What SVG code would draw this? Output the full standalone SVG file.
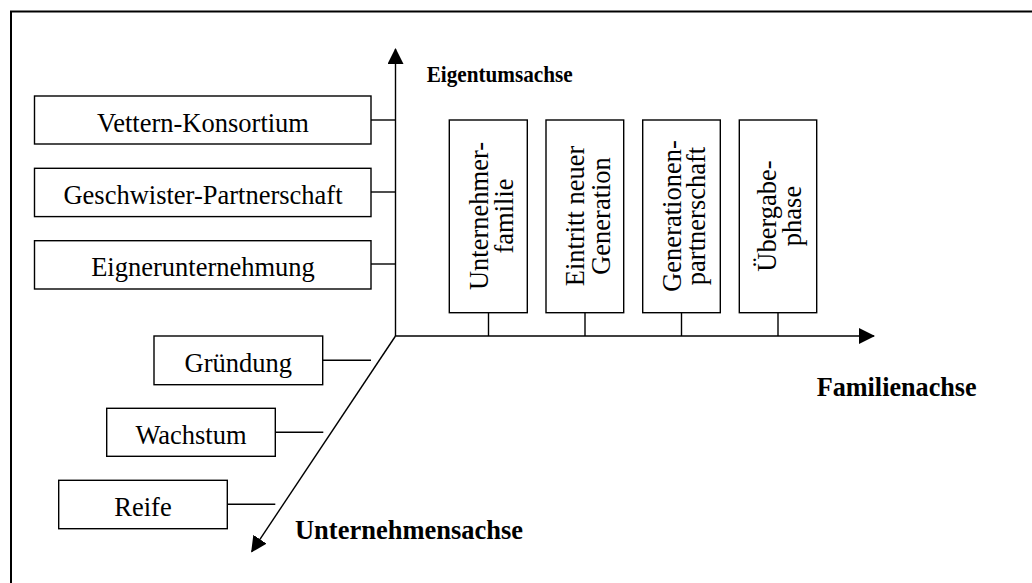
<svg xmlns="http://www.w3.org/2000/svg" width="1032" height="583" viewBox="0 0 1032 583">
<style>
.box{fill:#fff;stroke:#000;stroke-width:1.4}
.ln{fill:none;stroke:#000;stroke-width:1.4}
.t{font-family:"Liberation Serif","Times New Roman",serif;font-size:26.5px;fill:#000;text-anchor:middle}
.b{font-family:"Liberation Serif","Times New Roman",serif;font-weight:bold;fill:#000}
</style>
<defs>
<marker id="arr" markerUnits="userSpaceOnUse" markerWidth="16" markerHeight="16" viewBox="0 0 16 16" refX="15" refY="8" orient="auto">
<path d="M0,0 L16,8 L0,16 z" fill="#000"/>
</marker>
</defs>
<rect width="1032" height="583" fill="#fff"/>
<path d="M11,600 L11,11.5 L1040,11.5" fill="none" stroke="#000" stroke-width="2"/>

<g id="connectors">
<line class="ln" x1="395.5" y1="336" x2="395.5" y2="49" marker-end="url(#arr)"/>
<line class="ln" x1="395.5" y1="336" x2="874" y2="336" marker-end="url(#arr)"/>
<line class="ln" x1="395.5" y1="336" x2="251.7" y2="551.7" marker-end="url(#arr)"/>
<line class="ln" x1="371" y1="120" x2="395.5" y2="120"/>
<line class="ln" x1="371" y1="192" x2="395.5" y2="192"/>
<line class="ln" x1="371" y1="264" x2="395.5" y2="264"/>
<line class="ln" x1="488.5" y1="312.7" x2="488.5" y2="336"/>
<line class="ln" x1="585" y1="312.7" x2="585" y2="336"/>
<line class="ln" x1="681.5" y1="312.7" x2="681.5" y2="336"/>
<line class="ln" x1="778" y1="312.7" x2="778" y2="336"/>
<line class="ln" x1="322.7" y1="360.3" x2="371" y2="360.3"/>
<line class="ln" x1="275.3" y1="432.3" x2="323.3" y2="432.3"/>
<line class="ln" x1="227.3" y1="504.3" x2="275.3" y2="504.3"/>
</g>

<g id="axis-labels">
<text class="b" x="426.7" y="81.7" font-size="23" textLength="146" lengthAdjust="spacingAndGlyphs">Eigentumsachse</text>
<text class="b" x="816.7" y="395.7" font-size="27" textLength="160" lengthAdjust="spacingAndGlyphs">Familienachse</text>
<text class="b" x="295" y="539.3" font-size="27" textLength="228" lengthAdjust="spacingAndGlyphs">Unternehmensachse</text>
</g>

<g id="vettern">
<rect class="box" x="34.5" y="96" width="336.5" height="48"/>
<text class="t" x="203" y="132">Vettern-Konsortium</text>
</g>
<g id="geschwister">
<rect class="box" x="34.5" y="168.3" width="336.5" height="48.3"/>
<text class="t" x="203" y="204.2">Geschwister-Partnerschaft</text>
</g>
<g id="eigner">
<rect class="box" x="34.5" y="240.7" width="336.5" height="48.3"/>
<text class="t" x="203" y="276.3">Eignerunternehmung</text>
</g>

<g id="unternehmerfamilie">
<rect class="box" x="449.3" y="120" width="78" height="192.7"/>
<text class="t" transform="translate(488,216) rotate(-90)">Unternehmer-</text>
<text class="t" transform="translate(512.5,216) rotate(-90)">familie</text>
</g>
<g id="eintritt">
<rect class="box" x="546" y="120" width="77.7" height="192.7"/>
<text class="t" transform="translate(583.5,216) rotate(-90)">Eintritt neuer</text>
<text class="t" transform="translate(609.5,216) rotate(-90)">Generation</text>
</g>
<g id="generationenpartnerschaft">
<rect class="box" x="642.7" y="120" width="77.6" height="192.7"/>
<text class="t" transform="translate(680.5,216) rotate(-90)">Generationen-</text>
<text class="t" transform="translate(705,216) rotate(-90)">partnerschaft</text>
</g>
<g id="uebergabe">
<rect class="box" x="739.3" y="120" width="77.4" height="192.7"/>
<text class="t" transform="translate(776,216) rotate(-90)">Übergabe-</text>
<text class="t" transform="translate(800.7,216) rotate(-90)">phase</text>
</g>

<g id="gruendung">
<rect class="box" x="154" y="336" width="168.7" height="48.7"/>
<text class="t" x="238.3" y="371.7">Gründung</text>
</g>
<g id="wachstum">
<rect class="box" x="106.7" y="408.3" width="168.6" height="48"/>
<text class="t" x="191" y="443.7">Wachstum</text>
</g>
<g id="reife">
<rect class="box" x="58.7" y="480.3" width="168.6" height="48.4"/>
<text class="t" x="143" y="515.7">Reife</text>
</g>
</svg>
